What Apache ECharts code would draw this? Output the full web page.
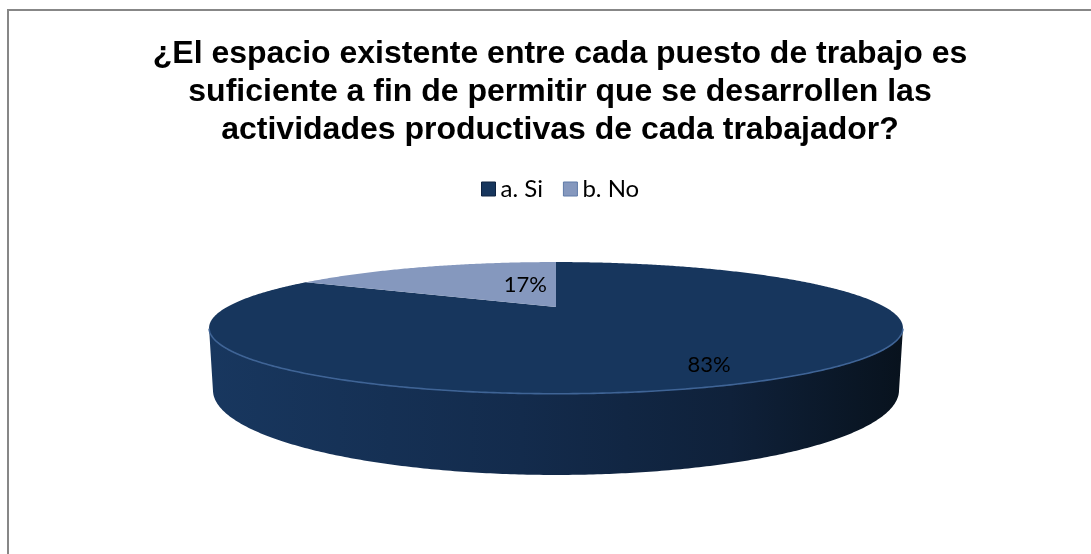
<!DOCTYPE html>
<html>
<head>
<meta charset="utf-8">
<script src="https://cdn.jsdelivr.net/npm/echarts@6/dist/echarts.min.js"></script>
<style>
  html, body { margin: 0; padding: 0; background: #ffffff; }
  #chart { width: 1091px; height: 554px; }
</style>
</head>
<body>
<div id="chart"></div>
<script>
// ---- data ----
const titleText = '¿El espacio existente entre cada puesto de trabajo es\nsuficiente a fin de permitir que se desarrollen las\nactividades productivas de cada trabajador?';
const categories = ['a. Si', 'b. No'];
const shares = [83, 17];

// ---- styles ----
const topColors = ['#17365D', '#8598BE'];
const legendBorders = ['#0E2240', '#5F7AA8'];
const rimColors = ['#3F6496', '#B4C3DD'];
const wallStops = [
  [[0, '#18375F'], [0.45, '#132B4C'], [0.75, '#0F213A'], [1, '#08121D']],
  [[0, '#8598BE'], [0.5, '#6F82A6'], [1, '#4A5670']]
];
const labelPlace = [
  { r: 0.72, dx: 3, dy: 12 },
  { r: 0.2, dx: 1, dy: -12 }
];

// ---- perspective view of the pie disk ----
const VIEW = { cx: 556, cy: 307, radius: 329, tilt: 0.18, dist: 3.1, depth: 0.1766 };
const COS_T = Math.sqrt(1 - VIEW.tilt * VIEW.tilt);

function project(X, Y, Z) {
  const yv = Y * COS_T - Z * VIEW.tilt;
  const zv = Y * VIEW.tilt + Z * COS_T;
  const s = VIEW.radius * VIEW.dist / (VIEW.dist - zv);
  return [VIEW.cx + X * s, VIEW.cy - yv * s];
}

const total = shares.reduce((a, b) => a + b, 0);
const starts = [];
(function () {
  let acc = 0;
  shares.forEach(v => { starts.push(acc / total); acc += v; });
})();

// slices run clockwise from 12 o'clock
function angleAt(f) { return -Math.PI / 2 + f * 2 * Math.PI; }

const DEG = Math.PI / 180;

function renderSlice(i) {
  return function () {
    const a0 = angleAt(starts[i]);
    const a1 = angleAt(starts[i] + shares[i] / total);
    const children = [];

    // outer wall: only the part facing the viewer
    const k = 1 / (VIEW.dist * COS_T);
    const lo = Math.asin(k), hi = Math.PI - lo;
    [-2 * Math.PI, 0, 2 * Math.PI].forEach(shift => {
      const w0 = Math.max(a0, lo + shift), w1 = Math.min(a1, hi + shift);
      if (w1 <= w0) return;
      const n = Math.max(2, Math.ceil((w1 - w0) / (0.5 * DEG)));
      const upper = [], lower = [];
      for (let j = 0; j <= n; j++) {
        const t = w0 + (w1 - w0) * j / n;
        upper.push(project(Math.cos(t), 0, Math.sin(t)));
        lower.push(project(Math.cos(t), -VIEW.depth, Math.sin(t)));
      }
      const grad = new echarts.graphic.LinearGradient(
        VIEW.cx - VIEW.radius * 1.06, 0, VIEW.cx + VIEW.radius * 1.06, 0,
        wallStops[i].map(s => ({ offset: s[0], color: s[1] })), true);
      children.push({
        type: 'polygon', z2: 1,
        shape: { points: upper.concat(lower.slice().reverse()) },
        style: { fill: grad }
      });
      children.push({
        type: 'polyline', z2: 6,
        shape: { points: upper },
        style: { stroke: rimColors[i], lineWidth: 1.6, fill: null }
      });
    });

    // top face
    const steps = Math.max(2, Math.ceil((a1 - a0) / (0.5 * DEG)));
    const top = [project(0, 0, 0)];
    for (let j = 0; j <= steps; j++) {
      const t = a0 + (a1 - a0) * j / steps;
      top.push(project(Math.cos(t), 0, Math.sin(t)));
    }
    children.push({
      type: 'polygon', z2: 5,
      shape: { points: top },
      style: { fill: topColors[i] }
    });

    // value label
    const mid = (a0 + a1) / 2;
    const lp = labelPlace[i];
    const p = project(lp.r * Math.cos(mid), 0, lp.r * Math.sin(mid));
    children.push({
      type: 'text', z2: 10,
      x: p[0] + lp.dx, y: p[1] + lp.dy,
      style: {
        text: Math.round(shares[i] / total * 100) + '%',
        font: '22px Lato', fill: '#000000',
        align: 'center', verticalAlign: 'middle'
      }
    });

    return { type: 'group', children: children };
  };
}

const chart = echarts.init(document.getElementById('chart'), null, { renderer: 'canvas' });

chart.setOption({
  animation: false,
  backgroundColor: '#ffffff',
  title: {
    text: titleText,
    left: 560,
    top: 35,
    padding: 0,
    textAlign: 'center',
    textStyle: {
      fontFamily: 'Liberation Sans',
      fontWeight: 'bold',
      fontSize: 32,
      lineHeight: 38,
      color: '#000000'
    }
  },
  legend: {
    left: 481,
    top: 177,
    padding: 0,
    itemWidth: 14,
    itemHeight: 14,
    itemGap: 20,
    icon: 'rect',
    selectedMode: false,
    data: categories.map((c, i) => ({
      name: c,
      itemStyle: { color: topColors[i], borderColor: legendBorders[i], borderWidth: 1 }
    })),
    textStyle: { fontFamily: 'Lato', fontSize: 24, color: '#000000' }
  },
  graphic: [{
    type: 'rect',
    shape: { x: 8, y: 10, width: 1300, height: 800 },
    style: { fill: null, stroke: '#878787', lineWidth: 2 },
    silent: true,
    z: -1
  }],
  series: categories.map((c, i) => ({
    type: 'custom',
    name: c,
    coordinateSystem: 'none',
    silent: true,
    itemStyle: { color: topColors[i] },
    data: [[shares[i]]],
    renderItem: renderSlice(i)
  }))
});
</script>
</body>
</html>
